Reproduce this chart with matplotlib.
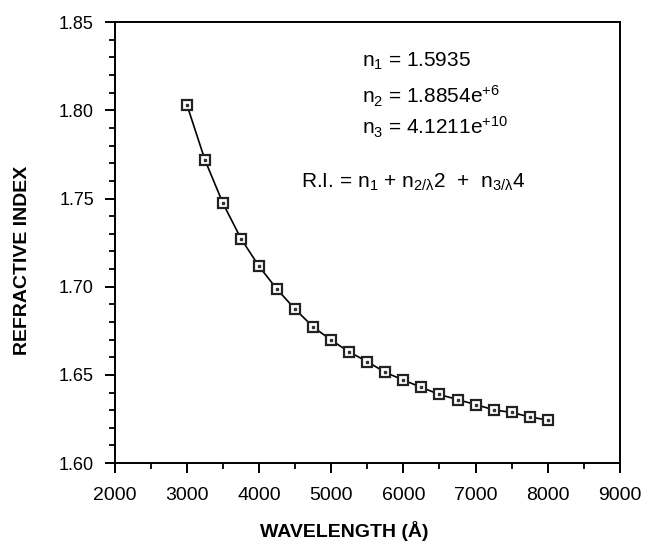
import matplotlib.pyplot as plt
import numpy as np

plt.rcParams['font.family'] = ['Liberation Sans', 'DejaVu Sans']
plt.rcParams['mathtext.fontset'] = 'custom'
plt.rcParams['mathtext.rm'] = 'Liberation Sans'
plt.rcParams['mathtext.it'] = 'Liberation Sans'

# values
wavelength = [3000, 3250, 3500, 3750, 4000, 4250, 4500, 4750, 5000, 5250, 5500,
              5750, 6000, 6250, 6500, 6750, 7000, 7250, 7500, 7750, 8000]
ri = [1.8031, 1.7718, 1.7472, 1.7272, 1.7115, 1.6985, 1.6872, 1.6772, 1.6697,
      1.6630, 1.6575, 1.6514, 1.6471, 1.6429, 1.6389, 1.6360, 1.6332, 1.6302,
      1.6287, 1.6262, 1.6244]

xticks = [2000, 3000, 4000, 5000, 6000, 7000, 8000, 9000]
yticks = [1.60, 1.65, 1.70, 1.75, 1.80, 1.85]

fig = plt.figure(figsize=(6.45, 5.41), dpi=100)
ax = fig.add_axes([0.178, 0.144, 0.783, 0.815])

ax.plot(wavelength, ri, color='black', lw=1.2, marker='s', ms=7,
        mfc='white', mec='#222222', mew=1.6)
ax.plot(wavelength, ri, ls='none', marker='s', ms=1.6, color='#333333')

ax.set_xlim(2000, 9000)
ax.set_ylim(1.60, 1.85)
ax.set_xticks(xticks)
ax.set_yticks(yticks)
ax.set_yticklabels(['%.2f' % v for v in yticks])
ax.set_xticks(np.arange(2500, 9000, 1000), minor=True)
ax.set_yticks(np.arange(1.60, 1.85, 0.01), minor=True)
ax.tick_params(which='major', direction='out', length=7, width=1.4, colors='black')
ax.tick_params(which='minor', direction='out', length=4.3, width=1.3)
ax.tick_params(axis='x', which='major', labelsize=14, pad=10)
ax.tick_params(axis='y', which='major', labelsize=13, pad=8)
for s in ax.spines.values():
    s.set_linewidth(1.4)

ax.set_xlabel('WAVELENGTH (Å)', fontsize=14, fontweight='bold', va='center')
ax.set_ylabel('REFRACTIVE INDEX', fontsize=14, fontweight='bold', va='center')
ax.xaxis.set_label_coords(0.454, -0.154)
ax.yaxis.set_label_coords(-0.182, 0.46)

fs = 15
tx = 0.489
ax.text(tx, 0.899, r'n$_1$ = 1.5935', transform=ax.transAxes, fontsize=fs, va='baseline')
ax.text(tx, 0.816, r'n$_2$ = 1.8854e$^{+6}$', transform=ax.transAxes, fontsize=fs, va='baseline')
ax.text(tx, 0.746, r'n$_3$ = 4.1211e$^{+10}$', transform=ax.transAxes, fontsize=fs, va='baseline')
ax.text(0.368, 0.624, r'R.I. = n$_1$ + n$_{2/\lambda}$2  +  n$_{3/\lambda}$4',
        transform=ax.transAxes, fontsize=fs, va='baseline')

fig.savefig('out.png', dpi=100)
